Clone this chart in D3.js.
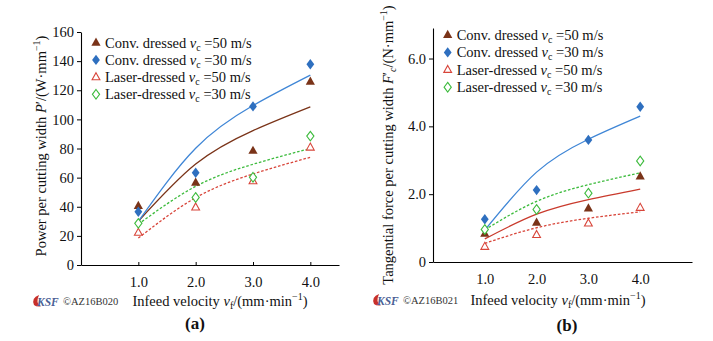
<!DOCTYPE html>
<html><head><meta charset="utf-8">
<script src="https://cdn.jsdelivr.net/npm/d3@7"></script>
<style>
body{margin:0;background:#fff;}
svg{display:block;}
text{font-family:"Liberation Serif","Times New Roman",serif;}
</style></head>
<body>
<svg id="c" width="713" height="341"></svg>
<script>
// ---------- data ----------
const xVals = [1.0, 2.0, 3.0, 4.0];
const xTickLabels = ["1.0", "2.0", "3.0", "4.0"];
const seriesNames = ["Conv. dressed", "Conv. dressed", "Laser-dressed", "Laser-dressed"];
const seriesSpeeds = ["=50 m/s", "=30 m/s", "=50 m/s", "=30 m/s"];

// Chart (a): power per cutting width
const aConv50 = [40.5, 56.5, 78.4, 125.8];
const aConv30 = [36.6, 63.3, 108.9, 137.9];
const aLaser50 = [22.2, 39.6, 57.6, 80.7];
const aLaser30 = [28.6, 46.4, 60.2, 88.5];
// fitted curves (at x = 1..4)
const aFitConv50 = [30, 69.3, 92.3, 108.6];
const aFitConv30 = [30, 80.2, 109.5, 130.4];
const aFitLaser50 = [18.5, 46.2, 62.5, 74.0];
const aFitLaser30 = [28, 54.0, 69.2, 80.0];
const aYTicks = [0, 20, 40, 60, 80, 100, 120, 140, 160];

// Chart (b): tangential force per cutting width
const bConv50 = [0.83, 1.16, 1.58, 2.52];
const bConv30 = [1.26, 2.12, 3.60, 4.58];
const bLaser50 = [0.45, 0.80, 1.14, 1.60];
const bLaser30 = [0.96, 1.55, 2.03, 2.98];
const bFitConv50 = [0.68, 1.41, 1.84, 2.15];
const bFitConv30 = [0.94, 2.65, 3.62, 4.30];
const bFitLaser50 = [0.55, 1.01, 1.29, 1.48];
const bFitLaser30 = [0.95, 1.79, 2.28, 2.63];
const bYTicks = [0, 2, 4, 6];
const bYTickLabels = ["0", "2.0", "4.0", "6.0"];

// ---------- styles ----------
const BROWN = "#7a3318", BLUE = "#2e6fbf", BLUEL = "#3f86d6", RED = "#d8453a", GREEN = "#3dbb3d", REDL = "#c93a2c";
const FS = 14.5;

const svg = d3.select("#c");
svg.append("rect").attr("width", 713).attr("height", 341).attr("fill", "#fff");

function triPath(){ return "M0,-5.2L4.6,3L-4.6,3Z"; }
function diaPath(){ return "M0,-5.2L3.9,0L0,5.2L-3.9,0Z"; }

function marker(g, x, y, kind){
  const m = g.append("path").attr("transform", `translate(${x},${y})`);
  if(kind === 0) m.attr("d", triPath()).attr("fill", BROWN);
  else if(kind === 1) m.attr("d", diaPath()).attr("fill", BLUE);
  else if(kind === 2) m.attr("d", "M0,-4.4L3.9,2.6L-3.9,2.6Z").attr("fill", "#fff").attr("stroke", RED).attr("stroke-width", 1.1);
  else m.attr("d", "M0,-4.8L3.6,0L0,4.8L-3.6,0Z").attr("fill", "#fff").attr("stroke", GREEN).attr("stroke-width", 1.1);
}

function drawPanel(cfg){
  const g = svg.append("g");
  const x = d3.scaleLinear().domain([0, cfg.xMax]).range(cfg.xRange);
  const y = d3.scaleLinear().domain([0, cfg.yMax]).range(cfg.yRange);

  // axes
  const ya = d3.axisLeft(y).tickValues(cfg.yTicks).tickFormat((d,i)=>cfg.yTickLabels[i]).tickSize(4).tickSizeOuter(0).tickPadding(3);
  const gy = g.append("g").attr("transform", `translate(${cfg.xRange[0]},0)`).call(ya);
  const xa = d3.axisBottom(x).tickValues(xVals).tickFormat((d,i)=>xTickLabels[i]).tickSize(cfg.xTickSize).tickSizeOuter(0).tickPadding(12);
  const gx = g.append("g").attr("transform", `translate(0,${cfg.yRange[0]})`).call(xa);
  [gx, gy].forEach(a=>{
    a.select(".domain").attr("stroke", "#000").attr("stroke-width", 1.1);
    a.selectAll(".tick line").attr("stroke", "#000").attr("stroke-width", 1);
    a.selectAll("text").attr("fill", "#111").attr("font-size", FS).attr("font-family", '"Liberation Serif",serif');
  });
  gx.selectAll(".tick line").attr("y2", -cfg.xTickSize);
  gx.selectAll("text").attr("dy", "0.71em").attr("y", 12);

  // fit lines
  const line = d3.line().x((d,i)=>x(xVals[i])).y(d=>y(d)).curve(d3.curveNatural);
  const fits = [
    {v: cfg.fit[0], c: cfg.fitColor0, dash: null},
    {v: cfg.fit[1], c: BLUEL, dash: null},
    {v: cfg.fit[2], c: RED, dash: "2.6,1.8"},
    {v: cfg.fit[3], c: GREEN, dash: "2.6,1.8"}
  ];
  fits.forEach(f=>{
    g.append("path").attr("d", line(f.v)).attr("fill", "none").attr("stroke", f.c)
      .attr("stroke-width", 1.3).attr("stroke-dasharray", f.dash);
  });

  // markers (order: conv50, conv30, laser50, laser30)
  cfg.pts.forEach((s, k)=>{
    s.forEach((v,i)=> marker(g, x(xVals[i]), y(v), k));
  });

  // legend
  cfg.pts.forEach((s,k)=>{
    const ly = cfg.legY + k*cfg.legDy;
    marker(g, cfg.legX, ly, k);
    const t = g.append("text").attr("x", cfg.legX + 9).attr("y", ly + 5).attr("font-size", FS).attr("fill", "#111");
    t.append("tspan").text(seriesNames[k] + " ");
    t.append("tspan").attr("font-style", "italic").text("v");
    t.append("tspan").attr("font-size", 10).attr("dy", 3).text("c");
    t.append("tspan").attr("dy", -3).text(" " + seriesSpeeds[k]);
  });

  // y title
  const yt = g.append("text").attr("transform", `translate(${cfg.yTitleX},${cfg.yTitleY}) rotate(-90)`)
    .attr("text-anchor", "middle").attr("font-size", FS).attr("fill", "#111");
  yt.append("tspan").text(cfg.yTitle + " ");
  yt.append("tspan").attr("font-style", "italic").text(cfg.yVar);
  yt.append("tspan").text("′");
  if(cfg.ySub){ yt.append("tspan").attr("font-style","italic").attr("font-size", 10).attr("dy", 3).text(cfg.ySub); yt.append("tspan").attr("dy", -3).text("/(" + cfg.yUnit + "·mm"); }
  else yt.append("tspan").text("/(" + cfg.yUnit + "·mm");
  yt.append("tspan").attr("font-size", 10).attr("dy", -6).text("−1");
  yt.append("tspan").attr("dy", 6).text(")");

  // x title
  const xt = g.append("text").attr("x", cfg.xTitleX).attr("y", cfg.xTitleY).attr("text-anchor", "middle").attr("font-size", FS).attr("fill", "#111");
  xt.append("tspan").text("Infeed velocity ");
  xt.append("tspan").attr("font-style", "italic").text("v");
  xt.append("tspan").attr("font-size", 10).attr("dy", 3).text("f");
  xt.append("tspan").attr("dy", -3).text("/(mm·min");
  xt.append("tspan").attr("font-size", 10).attr("dy", -6).text("−1");
  xt.append("tspan").attr("dy", 6).text(")");

  // panel label
  g.append("text").attr("x", cfg.labX).attr("y", cfg.labY).attr("text-anchor", "middle")
    .attr("font-size", 17).attr("font-weight", "bold").attr("fill", "#111").text(cfg.label);

  // KSF logo + code
  const lx = cfg.logoX, ly = cfg.xTitleY - 5;
  g.append("path").attr("d", `M${lx+6},${ly-6} Q${lx-2},${ly-3} ${lx+1},${ly+4} Q${lx+3},${ly+6} ${lx+8},${ly+5.5} Q${lx+2},${ly+3} ${lx+6},${ly-6}Z`).attr("fill", "#c8302a");
  g.append("text").attr("x", lx + 4).attr("y", ly + 4.5).attr("font-family", "Liberation Sans, Arial, sans-serif")
    .attr("font-weight", "bold").attr("font-style", "italic").attr("font-size", 11.5).attr("fill", "#4a5f95").text("KSF");
  g.append("text").attr("x", lx + 30).attr("y", ly + 4).attr("font-size", 10.5).attr("fill", "#333").text("©" + cfg.code);
}

drawPanel({
  xMax: 4.5, xRange: [81, 339], yMax: 160, yRange: [265, 32],
  yTicks: aYTicks, yTickLabels: aYTicks.map(String), xTickSize: 3,
  pts: [aConv50, aConv30, aLaser50, aLaser30],
  fit: [aFitConv50, aFitConv30, aFitLaser50, aFitLaser30], fitColor0: BROWN,
  legX: 96, legY: 42.7, legDy: 17.2,
  yTitle: "Power per cutting width", yVar: "P", ySub: null, yUnit: "W", yTitleX: 46, yTitleY: 146,
  xTitleX: 220, xTitleY: 306, label: "(a)", labX: 195, labY: 329,
  logoX: 33, code: "AZ16B020"
});

drawPanel({
  xMax: 5, xRange: [433, 692], yMax: 6.9, yRange: [262, 28],
  yTicks: bYTicks, yTickLabels: bYTickLabels, xTickSize: 0,
  pts: [bConv50, bConv30, bLaser50, bLaser30],
  fit: [bFitConv50, bFitConv30, bFitLaser50, bFitLaser30], fitColor0: REDL,
  legX: 447.7, legY: 35, legDy: 17.4,
  yTitle: "Tangential force per cutting width", yVar: "F", ySub: "c", yUnit: "N", yTitleX: 393, yTitleY: 145,
  xTitleX: 558, xTitleY: 305, label: "(b)", labX: 567, labY: 331,
  logoX: 373, code: "AZ16B021"
});
</script>
</body></html>
